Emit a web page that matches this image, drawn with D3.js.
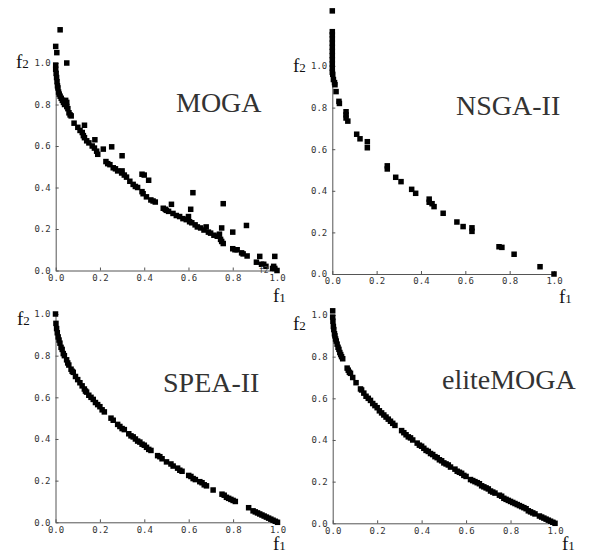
<!DOCTYPE html>
<html>
<head>
<meta charset="utf-8">
<script src="https://cdn.jsdelivr.net/npm/d3@7"></script>
<style>
  body { margin: 0; background: #fff; }
</style>
</head>
<body>
<div id="chart"></div>
<script>
// tick values shared by every panel
var tickValues = [0, 0.2, 0.4, 0.6, 0.8, 1.0];
var titles = ["MOGA", "NSGA-II", "SPEA-II", "eliteMOGA"];

// [f1, f2]
var mogaPoints = [
  [0.02,1.16],[0.0,1.08],[0.005,1.05],[0.05,1.0],
  [0.0,0.99],[0.0,0.97],[0.002,0.95],[0.004,0.93],[0.006,0.91],[0.008,0.89],[0.01,0.88],
  [0.013,0.86],[0.016,0.85],[0.02,0.84],[0.025,0.83],[0.03,0.82],[0.035,0.81],[0.04,0.80],
  [0.045,0.82],[0.05,0.81],[0.05,0.79],[0.055,0.78],[0.06,0.76],[0.065,0.75],[0.07,0.745],
  [0.083,0.71],[0.1,0.69],[0.13,0.70],[0.11,0.675],[0.12,0.665],[0.125,0.65],[0.13,0.64],
  [0.14,0.625],[0.15,0.615],[0.165,0.60],[0.177,0.63],[0.175,0.59],[0.185,0.575],[0.19,0.56],
  [0.215,0.585],[0.253,0.596],[0.227,0.525],[0.235,0.515],[0.245,0.51],[0.26,0.495],[0.27,0.49],
  [0.28,0.48],[0.298,0.47],[0.30,0.553],[0.30,0.48],[0.31,0.46],[0.32,0.45],[0.335,0.43],
  [0.35,0.415],[0.36,0.405],[0.37,0.40],[0.39,0.38],[0.39,0.464],[0.40,0.46],[0.42,0.435],
  [0.395,0.37],[0.41,0.355],[0.43,0.34],[0.44,0.335],[0.45,0.33],[0.486,0.30],[0.495,0.295],
  [0.5,0.29],[0.51,0.285],[0.523,0.319],[0.53,0.275],[0.545,0.265],[0.56,0.26],[0.575,0.25],
  [0.59,0.245],[0.60,0.26],[0.61,0.295],[0.62,0.375],[0.605,0.235],[0.615,0.23],[0.63,0.22],
  [0.64,0.21],[0.655,0.205],[0.67,0.195],[0.68,0.21],[0.69,0.185],[0.70,0.18],[0.715,0.17],
  [0.73,0.165],[0.74,0.175],[0.75,0.205],[0.757,0.322],[0.745,0.15],[0.75,0.14],[0.757,0.13],
  [0.80,0.185],[0.80,0.105],[0.81,0.10],[0.82,0.10],[0.84,0.085],[0.847,0.08],[0.862,0.217],
  [0.865,0.07],[0.907,0.04],[0.922,0.068],[0.93,0.03],[0.94,0.03],[0.95,0.02],[0.99,0.068],
  [0.98,0.01],[0.985,0.02],[0.99,0.01],[1.0,0.0]
];

var nsgaPoints = [
  [0,1.265],[0,1.165],[0,1.15],[0,1.13],[0,1.11],[0,1.09],[0,1.07],[0,1.05],[0,1.03],
  [0,1.01],[0,0.99],[0,0.97],[0.002,0.96],[0.005,0.935],[0.01,0.92],[0.012,0.91],
  [0.017,0.877],[0.03,0.83],[0.032,0.82],[0.062,0.78],[0.062,0.765],[0.062,0.75],[0.07,0.735],
  [0.11,0.672],[0.125,0.65],[0.158,0.636],[0.158,0.607],[0.248,0.52],[0.248,0.505],
  [0.286,0.465],[0.31,0.444],[0.358,0.407],[0.376,0.388],[0.437,0.36],[0.437,0.345],
  [0.45,0.338],[0.459,0.324],[0.50,0.292],[0.562,0.25],[0.59,0.228],[0.63,0.222],[0.63,0.205],
  [0.752,0.131],[0.765,0.128],[0.82,0.095],[0.937,0.035],[1.0,0.0]
];

var speaPoints = [
  [0,1.0],[0.002,0.955],[0.005,0.93],[0.008,0.91],[0.012,0.89],[0.016,0.875],[0.02,0.86],
  [0.025,0.84],[0.03,0.83],[0.035,0.81],[0.04,0.80],[0.05,0.78],[0.055,0.765],[0.06,0.755],
  [0.07,0.735],[0.075,0.725],[0.08,0.72],[0.09,0.70],[0.1,0.685],[0.11,0.67],[0.12,0.655],
  [0.13,0.64],[0.135,0.63],[0.14,0.625],[0.15,0.61],[0.16,0.60],[0.17,0.59],[0.18,0.575],
  [0.19,0.565],[0.2,0.555],[0.21,0.54],[0.22,0.53],[0.25,0.50],[0.26,0.49],[0.28,0.47],
  [0.29,0.46],[0.3,0.45],[0.31,0.445],[0.33,0.425],[0.34,0.415],[0.35,0.41],[0.36,0.40],
  [0.37,0.39],[0.38,0.385],[0.39,0.375],[0.4,0.37],[0.41,0.36],[0.42,0.35],[0.43,0.345],
  [0.46,0.32],[0.47,0.315],[0.48,0.305],[0.5,0.29],[0.52,0.28],[0.53,0.27],[0.55,0.26],
  [0.56,0.25],[0.57,0.245],[0.6,0.225],[0.61,0.22],[0.62,0.21],[0.63,0.205],[0.65,0.195],
  [0.66,0.19],[0.67,0.18],[0.68,0.175],[0.71,0.155],[0.75,0.135],[0.76,0.13],[0.77,0.12],
  [0.78,0.115],[0.79,0.11],[0.8,0.105],[0.81,0.10],[0.87,0.07],[0.89,0.055],[0.9,0.05],
  [0.91,0.045],[0.92,0.04],[0.93,0.035],[0.94,0.03],[0.95,0.025],[0.96,0.02],[0.97,0.015],
  [0.98,0.01],[0.99,0.005],[1.0,0.0]
];

var elitePoints = [
  [0,1.02],[0,0.99],[0.001,0.97],[0.003,0.945],[0.005,0.93],[0.008,0.91],[0.01,0.90],
  [0.013,0.885],[0.016,0.875],[0.02,0.86],[0.024,0.845],[0.028,0.835],[0.032,0.82],
  [0.036,0.81],[0.04,0.80],[0.045,0.79],[0.065,0.745],[0.07,0.735],[0.075,0.725],[0.08,0.72],
  [0.09,0.70],[0.105,0.675],[0.125,0.645],[0.13,0.64],[0.14,0.625],[0.15,0.61],[0.16,0.60],
  [0.17,0.59],[0.18,0.575],[0.19,0.565],[0.2,0.555],[0.21,0.54],[0.22,0.53],[0.23,0.52],
  [0.24,0.51],[0.25,0.50],[0.26,0.49],[0.27,0.48],[0.28,0.47],[0.31,0.445],[0.32,0.435],
  [0.33,0.425],[0.34,0.415],[0.35,0.41],[0.36,0.40],[0.38,0.385],[0.39,0.375],[0.4,0.37],
  [0.41,0.36],[0.42,0.35],[0.43,0.345],[0.44,0.335],[0.45,0.33],[0.46,0.32],[0.47,0.315],
  [0.48,0.305],[0.49,0.30],[0.5,0.29],[0.51,0.285],[0.52,0.28],[0.53,0.27],[0.55,0.26],
  [0.56,0.25],[0.57,0.245],[0.58,0.24],[0.59,0.23],[0.6,0.225],[0.62,0.21],[0.63,0.205],
  [0.64,0.20],[0.65,0.195],[0.66,0.19],[0.67,0.18],[0.68,0.175],[0.69,0.17],[0.7,0.165],
  [0.71,0.155],[0.72,0.15],[0.73,0.145],[0.75,0.135],[0.76,0.13],[0.77,0.12],[0.78,0.115],
  [0.79,0.11],[0.8,0.105],[0.81,0.10],[0.82,0.095],[0.83,0.09],[0.84,0.085],[0.85,0.08],
  [0.86,0.075],[0.87,0.07],[0.88,0.06],[0.89,0.055],[0.9,0.05],[0.91,0.045],[0.93,0.035],
  [0.94,0.03],[0.95,0.025],[0.96,0.02],[0.97,0.015],[0.98,0.01],[0.99,0.005],[1.0,0.0]
];

// layout of the four panels (pixel frames and label spots)
var panels = [
  {data: mogaPoints,  title: titles[0], x0: 55.7,  x1: 277,   y0: 270.5, y1: 63,
   tx: 176, ty: 112, f2x: 16,  f2y: 68,  f1x: 273, f1y: 302},
  {data: nsgaPoints,  title: titles[1], x0: 332.3, x1: 554,   y0: 274,   y1: 66,
   tx: 456, ty: 115, f2x: 293, f2y: 72,  f1x: 559, f1y: 303},
  {data: speaPoints,  title: titles[2], x0: 55.5,  x1: 277.5, y0: 522.3, y1: 314,
   tx: 163, ty: 392, f2x: 17,  f2y: 325, f1x: 273, f1y: 550},
  {data: elitePoints, title: titles[3], x0: 332.7, x1: 555,   y0: 523.3, y1: 315,
   tx: 442, ty: 389, f2x: 293, f2y: 330, f1x: 562, f1y: 550}
];

var svg = d3.select("#chart").append("svg")
    .attr("width", 589)
    .attr("height", 555);

var serif = "'Liberation Serif', 'Times New Roman', serif";
var mono = "'DejaVu Sans Mono', monospace";
var fmt = d3.format(".1f");
var markSize = 5.5;

panels.forEach(function(p) {

    var xScale = d3.scaleLinear().domain([0, 1]).range([p.x0, p.x1]);
    var yScale = d3.scaleLinear().domain([0, 1]).range([p.y0, p.y1]);

    var xAxis = d3.axisBottom(xScale)
        .tickValues(tickValues)
        .tickFormat(fmt)
        .tickSizeInner(-3)
        .tickSizeOuter(0)
        .tickPadding(4);

    var yAxis = d3.axisLeft(yScale)
        .tickValues(tickValues)
        .tickFormat(fmt)
        .tickSizeInner(-3)
        .tickSizeOuter(0)
        .tickPadding(5);

    var gx = svg.append("g")
        .attr("transform", "translate(0," + p.y0 + ")")
        .call(xAxis);

    var gy = svg.append("g")
        .attr("transform", "translate(" + p.x0 + ",0)")
        .call(yAxis);

    [gx, gy].forEach(function(g) {
        g.attr("font-family", mono).attr("font-size", 9);
        g.select(".domain").attr("stroke", "#555");
        g.selectAll(".tick line").attr("stroke", "#555");
        g.selectAll(".tick text").attr("fill", "#333");
    });

    // points
    svg.append("g")
        .selectAll("rect")
        .data(p.data)
        .enter().append("rect")
        .attr("x", d => xScale(d[0]) - markSize / 2)
        .attr("y", d => yScale(d[1]) - markSize / 2)
        .attr("width", markSize)
        .attr("height", markSize)
        .attr("fill", "#000");

    // title
    svg.append("text")
        .attr("x", p.tx)
        .attr("y", p.ty)
        .attr("font-family", serif)
        .attr("font-size", 28)
        .attr("fill", "#333")
        .text(p.title);

    // axis names
    var f2 = svg.append("text")
        .attr("x", p.f2x)
        .attr("y", p.f2y)
        .attr("font-family", serif)
        .attr("fill", "#111");
    f2.append("tspan").attr("font-size", 19).text("f");
    f2.append("tspan").attr("font-size", 13).text("2");

    var f1 = svg.append("text")
        .attr("x", p.f1x)
        .attr("y", p.f1y)
        .attr("font-family", serif)
        .attr("fill", "#111");
    f1.append("tspan").attr("font-size", 19).text("f");
    f1.append("tspan").attr("font-size", 13).text("1");
});

// small stray label near the MOGA corner
svg.append("text")
    .attr("x", 259)
    .attr("y", 273)
    .attr("font-family", mono)
    .attr("font-size", 8)
    .attr("fill", "#444")
    .text("f2");
</script>
</body>
</html>
